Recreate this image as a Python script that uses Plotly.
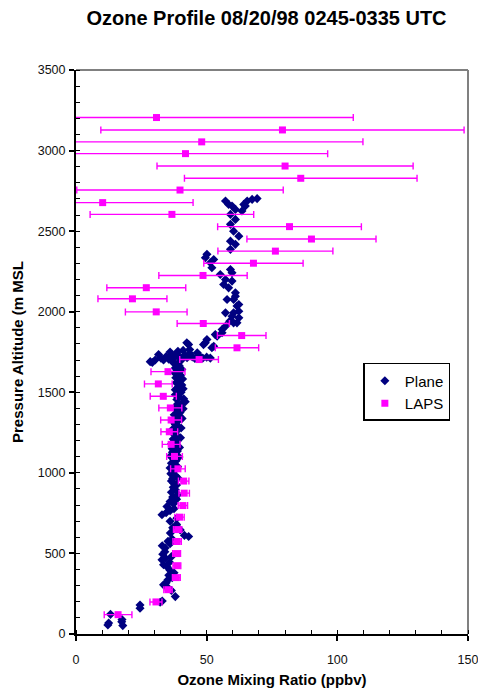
import plotly.graph_objects as go

# ---------------- data ----------------
plane_ozone = [
    12.2, 12.5, 13.2, 17.5, 17.9, 17.6, 24.5, 24.5, 32.2, 33.0, 38.0,
    36.5, 35.0, 33.5, 34.5, 35.2, 36.8, 35.5, 37.5, 36.0, 34.8, 33.5, 35.8, 32.9, 34.2, 36.5,
    33.2, 34.0, 34.1, 33.0, 36.0, 35.2, 36.8, 43.1, 41.5, 36.1, 39.9, 37.0, 38.5, 36.0, 38.6,
    32.9, 34.5, 36.0, 37.5, 34.8, 37.3, 36.0, 38.5, 37.0, 39.0, 36.5, 38.0, 37.2, 38.5, 37.3, 36.5,
    37.0, 38.2, 36.3, 37.5, 36.0, 37.8, 36.5, 38.3, 37.0, 36.2, 37.6, 38.8, 36.8, 37.9, 36.6,
    38.6, 37.2, 39.0, 37.5, 38.2, 37.0, 39.2, 38.0, 37.4, 39.5, 38.3, 37.6, 39.8, 38.5, 37.8,
    40.0, 41.8, 40.5, 38.6, 39.5, 38.0, 40.2, 38.0, 39.0, 40.5, 38.4, 39.6, 38.2, 40.0, 37.8,
    39.0, 38.0, 39.5, 37.5,
    39.0, 36.8, 38.9, 37.2, 39.4, 36.9, 39.6, 37.4, 40.0, 37.8, 40.2, 38.1, 40.6, 38.6, 41.0,
    38.9, 41.2, 39.0, 41.0, 38.9, 40.8, 39.2, 40.5, 38.6,
    28.4, 30.3, 29.2, 31.6, 32.5, 33.5, 34.5, 35.5, 36.5, 37.5, 38.5, 39.5, 40.5, 41.5, 42.5,
    43.5, 44.5, 45.5, 46.4, 47.5, 48.5, 50.0, 51.4, 36.0, 39.0, 41.0, 43.5, 37.0, 40.0,
    49.5, 48.8, 50.1, 52.7, 52.0, 54.0, 55.9, 57.2, 58.8, 61.6, 60.3, 62.3, 59.7, 60.3, 57.2,
    62.3, 61.6, 62.3, 60.3, 57.8, 61.0, 61.0, 58.4, 56.5, 59.7, 57.2, 55.2, 59.7, 59.1, 52.0,
    51.4, 52.7, 49.5, 50.1, 59.1, 61.0, 59.1, 62.3, 60.3, 59.1, 61.0, 59.1, 61.0, 63.5, 58.4,
    59.7, 57.2, 64.8, 64.2, 65.5, 67.4, 69.3, 42.4, 43.1, 53.3, 55.9,
]
plane_alt = [
    56, 68, 122, 76, 52, 90, 160, 180, 197, 205, 232,
    270, 290, 305, 318, 336, 350, 365, 380, 395, 418, 430, 445, 460, 472, 480,
    495, 510, 533, 548, 560, 575, 590, 605, 612, 626, 646, 660, 680, 700, 719,
    740, 752, 765, 778, 791, 808, 822, 836, 850, 865, 880, 895, 910, 925, 937, 950,
    965, 980, 995, 1010, 1030, 1045, 1060, 1075, 1090, 1105, 1120, 1135, 1150, 1165, 1180,
    1195, 1210, 1225, 1240, 1255, 1270, 1285, 1300, 1315, 1330, 1345, 1360, 1375, 1390, 1405,
    1420, 1442, 1430, 1455, 1470, 1485, 1500, 1516, 1530, 1545, 1560, 1575, 1590, 1605, 1620,
    1635, 1650, 1665, 1680,
    968, 1002, 1038, 1068, 1098, 1128, 1158, 1188, 1218, 1248, 1278, 1308, 1338, 1368, 1398,
    1428, 1460, 1492, 1522, 1552, 1582, 1612, 1642, 1672,
    1690, 1700, 1685, 1734, 1712, 1700, 1722, 1705, 1730, 1712, 1740, 1718, 1705, 1730, 1715,
    1742, 1720, 1710, 1745, 1722, 1712, 1718, 1712, 1750, 1755, 1760, 1765, 1690, 1695,
    1807, 1796, 1827, 1786, 1776, 1848, 1869, 1910, 1941, 1931, 1931, 1962, 1972, 1993, 1993,
    2003, 2035, 2045, 2076, 2076, 2096, 2117, 2148, 2169, 2190, 2200, 2231, 2242, 2262, 2273,
    2304, 2324, 2335, 2356, 2387, 2418, 2438, 2469, 2500, 2542, 2573, 2604, 2635, 2625, 2666,
    2656, 2687, 2656, 2666, 2687, 2697, 2702, 1807, 1796, 1858, 1890,
]

laps_alt = [120, 199, 275, 350, 424, 499, 574, 648, 725, 797, 874, 949, 1025, 1102,
            1177, 1255, 1328, 1403, 1475, 1552, 1628, 1703, 1776, 1852, 1927, 1999,
            2080, 2149, 2225, 2301, 2376, 2451, 2528, 2604, 2677, 2755, 2828, 2904,
            2981, 3054, 3128, 3205]
laps_ozone = [16.1, 30.6, 35.2, 38.4, 38.6, 38.5, 38.7, 38.9, 39.6, 40.9, 41.4, 41.2,
              39.0, 37.7, 36.4, 35.7, 36.4, 36.1, 33.4, 31.5, 35.2, 47.1, 61.6, 63.4,
              48.7, 30.7, 21.6, 26.9, 48.6, 67.9, 76.3, 90.1, 81.7, 36.7, 10.2, 39.8,
              86.0, 80.0, 41.9, 48.1, 79.0, 30.8]
laps_err = [5.3, 2.3, 1.6, 1.5, 1.5, 1.5, 1.6, 1.6, 1.8, 1.8, 2.0, 2.0, 2.8, 3.0,
            3.4, 3.2, 4.0, 4.4, 5.0, 5.3, 6.5, 7.4, 8.3, 9.3, 10.0, 11.8, 13.2, 15.1,
            16.9, 19.0, 22.0, 24.7, 27.5, 31.3, 34.6, 39.5, 44.5, 49.0, 54.4, 61.7,
            69.5, 75.3]

x_major_ticks = [0, 50, 100, 150]
y_major_ticks = [0, 500, 1000, 1500, 2000, 2500, 3000, 3500]

FONT = "Arial"

fig = go.Figure()
fig.add_trace(go.Scatter(
    x=plane_ozone, y=plane_alt, mode="markers", name="Plane",
    marker=dict(symbol="diamond", size=7, color="#000080", line=dict(width=0)),
))
fig.add_trace(go.Scatter(
    x=laps_ozone, y=laps_alt, mode="markers", name="LAPS",
    marker=dict(symbol="square", size=7, color="#FF00FF", line=dict(width=0)),
    error_x=dict(type="data", array=laps_err, symmetric=True, color="#FF00FF",
                 thickness=1.4, width=3.5),
))

fig.update_layout(
    width=478, height=688,
    margin=dict(l=76, r=10, t=70, b=54, autoexpand=False),
    paper_bgcolor="white", plot_bgcolor="white",
    font=dict(family=FONT, color="#000000"),
    title=dict(text="<b>Ozone Profile 08/20/98 0245-0335 UTC</b>",
               font=dict(size=20, family=FONT, color="#000"),
               xref="container", x=0.5575, xanchor="center",
               yref="container", y=0.974, yanchor="middle", automargin=False),
    showlegend=True,
    legend=dict(x=0.955, xanchor="right", y=0.4805, yanchor="top",
                bordercolor="#000", borderwidth=1.5, bgcolor="white",
                font=dict(size=15, family=FONT, color="#000"),
                itemwidth=30, tracegroupgap=0),
    xaxis=dict(range=[0, 150], tickvals=x_major_ticks, ticks="outside", ticklen=5,
               tickwidth=1.5, tickcolor="#000", showline=True, linecolor="#000",
               linewidth=2, showgrid=False, zeroline=False, automargin=False,
               ticklabeloverflow="allow",
               tickfont=dict(size=12.5, family=FONT, color="#111"), ticklabelstandoff=8,
               minor=dict(dtick=10, tick0=0, ticks="inside", ticklen=4, tickwidth=1.2,
                          tickcolor="#000", showgrid=False),
               title=dict(text="<b>Ozone Mixing Ratio (ppbv)</b>",
                          font=dict(size=15, family=FONT, color="#000"), standoff=11)),
    yaxis=dict(range=[0, 3500], tickvals=y_major_ticks, ticks="outside", ticklen=5,
               tickwidth=1.5, tickcolor="#000", showline=True, linecolor="#000",
               linewidth=2, showgrid=False, zeroline=False, automargin=False,
               ticklabeloverflow="allow",
               tickfont=dict(size=12.5, family=FONT, color="#111"), ticklabelstandoff=1,
               minor=dict(dtick=100, tick0=0, ticks="inside", ticklen=4, tickwidth=1.2,
                          tickcolor="#000", showgrid=False),
               title=dict(text="<b>Pressure Altitude (m MSL</b>",
                          font=dict(size=15, family=FONT, color="#000"), standoff=10)),
    shapes=[
        dict(type="line", xref="paper", yref="paper", x0=0, x1=1, y0=1, y1=1,
             line=dict(color="#808080", width=2), layer="below"),
        dict(type="line", xref="paper", yref="paper", x0=1, x1=1, y0=0, y1=1,
             line=dict(color="#808080", width=2), layer="below"),
    ],
)

fig.write_html(
    "out.html",
    config={"displayModeBar": False},
    post_script="document.body.style.margin='0';document.body.style.overflow='hidden';",
)
